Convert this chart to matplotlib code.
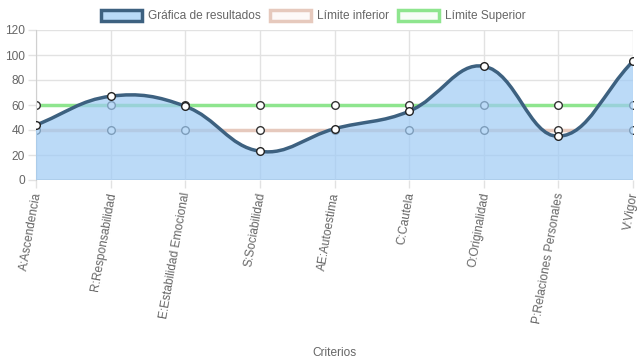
import numpy as np
import matplotlib
matplotlib.use('Agg')
import matplotlib.pyplot as plt
from matplotlib.path import Path
from matplotlib.patches import PathPatch, Patch

plt.rcParams['font.family'] = ['Liberation Sans', 'DejaVu Sans']

criterios = ['A:Ascendencia', 'R:Responsabilidad', 'E:Estabilidad Emocional', 'S:Sociabilidad',
             'AE:Autoestima', 'C:Cautela', 'O:Originalidad', 'P:Relaciones Personales', 'V:Vigor']
resultados = [44, 67, 59, 23, 41, 55, 91, 35, 95]
limite_inferior = [40, 40, 40, 40, 40, 40, 40, 40, 40]
limite_superior = [60, 60, 60, 60, 60, 60, 60, 60, 60]

W, H = 637, 359
L, R, T, B = 36, 633, 30, 180
YMAX = 120


def spline_vertices(xs, ys, sx, sy, t=0.4):
    # Chart.js style bezier control points, computed in pixel space
    px = np.asarray(xs, float) * sx
    py = np.asarray(ys, float) * sy
    n = len(px)
    prev_cp, next_cp = [], []
    for i in range(n):
        a, b = max(i - 1, 0), min(i + 1, n - 1)
        d01 = np.hypot(px[i] - px[a], py[i] - py[a])
        d12 = np.hypot(px[b] - px[i], py[b] - py[i])
        tot = d01 + d12
        s01 = d01 / tot if tot else 0
        s12 = d12 / tot if tot else 0
        fa, fb = t * s01, t * s12
        dx, dy = px[b] - px[a], py[b] - py[a]
        prev_cp.append((px[i] - fa * dx, min(max(py[i] - fa * dy, 0), YMAX * sy)))
        next_cp.append((px[i] + fb * dx, min(max(py[i] + fb * dy, 0), YMAX * sy)))
    verts = [(px[0], py[0])]
    codes = [Path.MOVETO]
    for i in range(n - 1):
        verts += [next_cp[i], prev_cp[i + 1], (px[i + 1], py[i + 1])]
        codes += [Path.CURVE4] * 3
    verts = [(vx / sx, vy / sy) for vx, vy in verts]
    return verts, codes


fig = plt.figure(figsize=(W / 100, H / 100), dpi=100)
ax = fig.add_axes([L / W, (H - B) / H, (R - L) / W, (B - T) / H])
x = np.arange(len(criterios))
sx = (R - L) / (len(criterios) - 1)
sy = (B - T) / YMAX

txt = '#666666'
grid = '#e2e2e2'

ax.plot(x, limite_inferior, color='#e6c9bd', lw=2.5, zorder=2,
        marker='o', ms=5.5, mfc='white', mec='#333333', mew=1)
ax.plot(x, limite_superior, color='#8ee58e', lw=2.5, zorder=2,
        marker='o', ms=5.5, mfc='white', mec='#333333', mew=1)

verts, codes = spline_vertices(x, resultados, sx, sy)
fill_verts = verts + [(x[-1], 0), (x[0], 0), verts[0]]
fill_codes = codes + [Path.LINETO, Path.LINETO, Path.CLOSEPOLY]
ax.add_patch(PathPatch(Path(fill_verts, fill_codes), facecolor='#9ecbf5', alpha=0.7,
                       edgecolor='none', zorder=3))
ax.add_patch(PathPatch(Path(verts, codes), facecolor='none', edgecolor='#3d6180',
                       lw=2.5, zorder=4, capstyle='round'))
ax.plot(x, resultados, ls='none', marker='o', ms=5.5, mfc='white', mec='#222222', mew=1, zorder=5)

ax.set_xlim(0, len(criterios) - 1)
ax.set_ylim(0, YMAX)
ax.set_yticks(range(0, 121, 20))
ax.set_xticks(x)
ax.set_xticklabels(criterios, rotation=80, ha='right', va='center_baseline', rotation_mode='anchor')
ax.grid(True, color=grid, lw=1, zorder=0)
ax.axhline(0, color='#cfcfcf', lw=2, zorder=1)
for s in ax.spines.values():
    s.set_visible(False)
ax.spines['left'].set_visible(True)
ax.spines['left'].set_color('#d0d0d0')
ax.tick_params(axis='both', colors=grid, labelcolor=txt, labelsize=8.6, length=6, width=1, pad=2)
ax.tick_params(axis='x', pad=3)
ax.set_xlabel('Criterios', color=txt, fontsize=8.6, labelpad=6)
ax.xaxis.set_label_coords(0.5, -(347 - B) / (B - T))

handles = [
    Patch(facecolor='#b9daf7', edgecolor='#3d6180', lw=2.5, label='Gráfica de resultados'),
    Patch(facecolor='#fdf9f8', edgecolor='#e6c9bd', lw=2.5, label='Límite inferior'),
    Patch(facecolor='#f8fdf8', edgecolor='#8ee58e', lw=2.5, label='Límite Superior'),
]
fig.legend(handles=handles, loc='center', bbox_to_anchor=(0.5 - 5 / W, 1 - 16 / H), ncol=3, frameon=False,
           fontsize=8.6, labelcolor=txt, handlelength=3.4, handleheight=1.1, handletextpad=0.5,
           columnspacing=0.8)

fig.savefig('out.png', dpi=100)
